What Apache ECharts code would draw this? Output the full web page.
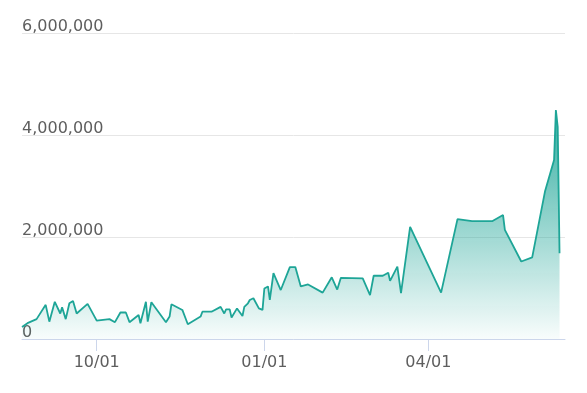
<!DOCTYPE html>
<html>
<head>
<meta charset="utf-8">
<script src="https://cdn.jsdelivr.net/npm/echarts@6/dist/echarts.min.js"></script>
<style>
html,body{margin:0;padding:0;background:#fff;}
#chart{width:587px;height:393px;}
</style>
</head>
<body>
<div id="chart"></div>
<script>
const dates = [
  '2020-08-21','2020-08-24','2020-08-29','2020-09-03','2020-09-05','2020-09-08','2020-09-11','2020-09-12',
  '2020-09-14','2020-09-16','2020-09-18','2020-09-20','2020-09-26','2020-10-01','2020-10-08','2020-10-11',
  '2020-10-14','2020-10-17','2020-10-19','2020-10-24','2020-10-25','2020-10-28','2020-10-29','2020-10-31',
  '2020-11-08','2020-11-10','2020-11-11','2020-11-17','2020-11-20','2020-11-27','2020-11-28','2020-12-03',
  '2020-12-08','2020-12-10','2020-12-11','2020-12-13','2020-12-14','2020-12-17','2020-12-20','2020-12-21',
  '2020-12-23','2020-12-24','2020-12-26','2020-12-29','2020-12-31','2021-01-01','2021-01-03','2021-01-04',
  '2021-01-06','2021-01-10','2021-01-15','2021-01-18','2021-01-21','2021-01-25','2021-02-02','2021-02-07',
  '2021-02-10','2021-02-12','2021-02-24','2021-02-28','2021-03-02','2021-03-07','2021-03-10','2021-03-11',
  '2021-03-15','2021-03-17','2021-03-22','2021-04-08','2021-04-17','2021-04-25','2021-05-06','2021-05-12',
  '2021-05-13','2021-05-22','2021-05-28','2021-06-04','2021-06-09','2021-06-10','2021-06-11','2021-06-12'
];
const values = [
  235000,310000,390000,670000,340000,730000,500000,620000,
  390000,700000,745000,500000,690000,360000,390000,330000,
  520000,520000,330000,470000,310000,730000,340000,720000,
  330000,440000,680000,570000,290000,440000,535000,535000,
  630000,500000,580000,580000,420000,600000,450000,630000,
  700000,765000,800000,600000,570000,990000,1030000,765000,
  1290000,960000,1410000,1410000,1030000,1070000,910000,1210000,
  970000,1200000,1190000,860000,1240000,1240000,1300000,1140000,
  1420000,900000,2200000,910000,2350000,2310000,2310000,2430000,
  2140000,1520000,1600000,2890000,3510000,4490000,4160000,1680000
];
const xTicks = ['2020-10-01','2021-01-01','2021-04-01'];
const xMin = '2020-08-21';
const xMax = '2021-06-15';
const yTicks = [0, 2000000, 4000000, 6000000];

const ts = d => Date.UTC(+d.slice(0, 4), +d.slice(5, 7) - 1, +d.slice(8, 10));
const pad = n => (n < 10 ? '0' : '') + n;
const tickTs = xTicks.map(ts);

const chart = echarts.init(document.getElementById('chart'));
chart.setOption({
  animation: false,
  grid: {left: 22, right: 22, top: 33, bottom: 54, containLabel: false},
  xAxis: {
    type: 'value',
    min: ts(xMin),
    max: ts(xMax),
    axisLine: {show: true, lineStyle: {color: '#ccd6eb', width: 1}},
    axisTick: {show: true, length: 12, lineStyle: {color: '#ccd6eb'}, customValues: tickTs},
    axisLabel: {
      customValues: tickTs,
      color: '#5e5e5e', fontFamily: 'DejaVu Sans', fontSize: 16, margin: 16,
      formatter: v => { const d = new Date(v); return pad(d.getUTCMonth() + 1) + '/' + pad(d.getUTCDate()); }
    },
    splitLine: {show: false}
  },
  yAxis: {
    type: 'value',
    min: yTicks[0],
    max: yTicks[yTicks.length - 1],
    interval: 2000000,
    axisLine: {show: false},
    axisTick: {show: false},
    splitLine: {lineStyle: {color: '#e6e6e6', width: 1}},
    axisLabel: {
      inside: true, margin: 0, align: 'left', verticalAlign: 'bottom',
      lineHeight: 13, padding: 0,
      color: '#5e5e5e', fontFamily: 'DejaVu Sans', fontSize: 16,
      formatter: v => v.toLocaleString('en-US')
    }
  },
  series: [{
    type: 'line',
    data: dates.map((d, i) => [ts(d), values[i]]),
    showSymbol: false,
    symbol: 'none',
    lineStyle: {color: '#1ea597', width: 1.8},
    itemStyle: {color: '#1ea597'},
    areaStyle: {
      opacity: 1,
      color: new echarts.graphic.LinearGradient(0, 0, 0, 1, [
        {offset: 0, color: 'rgba(30,165,151,0.9)'},
        {offset: 1, color: 'rgba(30,165,151,0.03)'}
      ])
    }
  }]
});
</script>
</body>
</html>
